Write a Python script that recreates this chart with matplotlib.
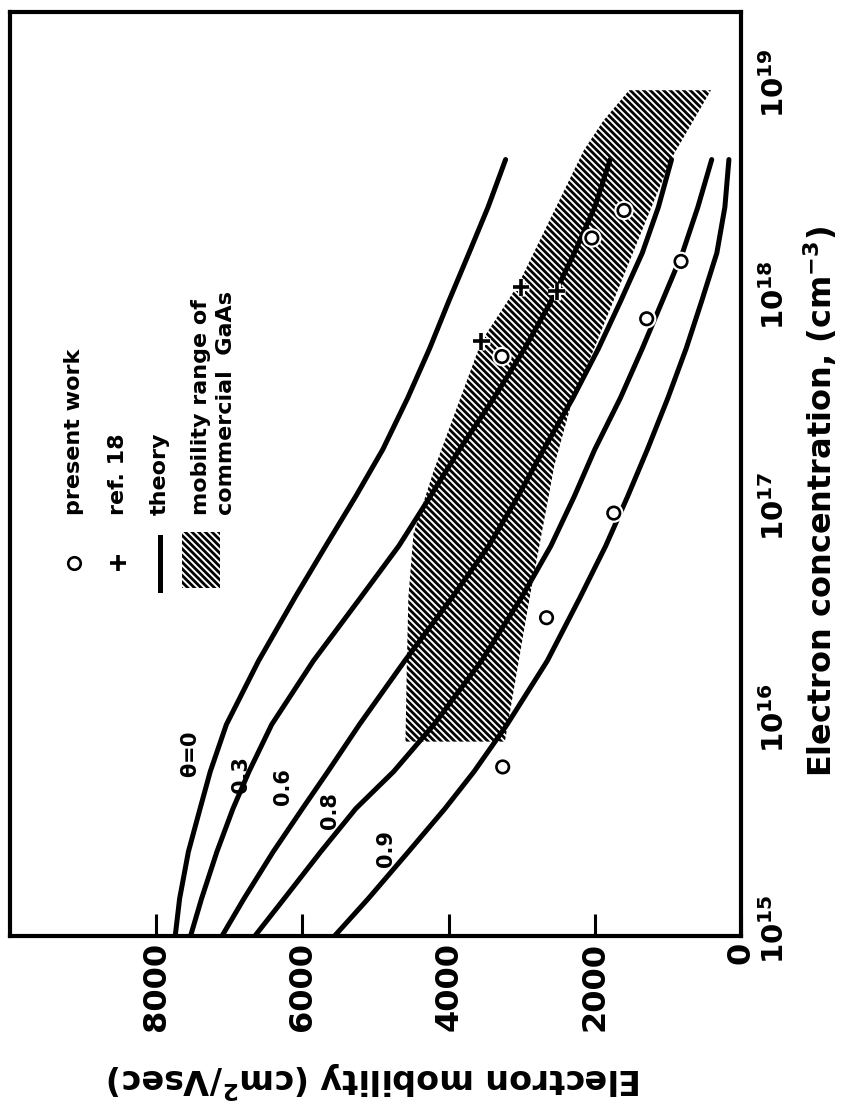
import matplotlib.pyplot as plt
import matplotlib.patheffects as pe
from matplotlib.patches import Rectangle
from matplotlib.ticker import NullLocator
from matplotlib.transforms import ScaledTranslation

plt.rcParams['font.family'] = ['DejaVu Sans']
plt.rcParams['font.weight'] = 'bold'
plt.rcParams['mathtext.default'] = 'bf'
plt.rcParams['hatch.linewidth'] = 2.0

# theory curves, electron concentration (cm^-3) vs mobility (cm^2/Vsec)
conc_theory = [1e15, 1.5e15, 2.5e15, 4e15, 6e15, 1e16, 2e16, 4e16, 7e16, 1.2e17,
               2e17, 3.5e17, 6e17, 1e18, 1.7e18, 2.8e18, 4.7e18]
mu_theta_00 = [7740, 7680, 7560, 7400, 7260, 7040, 6600, 6100, 5680, 5270,
               4900, 4560, 4260, 4000, 3720, 3460, 3220]
mu_theta_03 = [7530, 7380, 7170, 6950, 6730, 6420, 5850, 5200, 4680, 4250,
               3850, 3380, 2960, 2600, 2280, 2000, 1790]
mu_theta_06 = [7100, 6800, 6400, 6000, 5650, 5220, 4600, 3950, 3450, 3050,
               2700, 2300, 1950, 1650, 1350, 1130, 950]
mu_theta_08 = [6650, 6250, 5750, 5270, 4750, 4200, 3550, 3000, 2600, 2280,
               2000, 1650, 1350, 1080, 800, 590, 400]
mu_theta_09 = [5560, 5100, 4550, 4050, 3650, 3200, 2650, 2200, 1850, 1550,
               1280, 1000, 750, 540, 330, 220, 165]
theta_labels = ['$\\theta$=0', '0.3', '0.6', '0.8', '0.9']
label_conc = [7.2e15, 5.8e15, 5.1e15, 3.9e15, 2.6e15]
label_mu = [7530, 6840, 6260, 5620, 4860]

# present work
conc_present = [6.3e15, 3.2e16, 1.0e17, 5.5e17, 8.3e17, 1.55e18, 2.0e18, 2.7e18]
mu_present = [3260, 2660, 1740, 3270, 1290, 820, 2040, 1600]

# ref. 18
conc_ref18 = [6.5e17, 1.12e18, 1.17e18]
mu_ref18 = [3550, 2520, 3010]

# mobility range of commercial GaAs (outline of the shaded band)
band_conc_upper = [8.3e15, 2e16, 4e16, 8e16, 1.6e17, 3.2e17, 6.5e17, 1.2e18, 2.5e18, 5.2e18, 7.2e18, 1e19]
band_mu_upper = [4590, 4570, 4550, 4480, 4200, 3880, 3550, 3050, 2600, 2150, 1880, 1530]
band_conc_lower = [1e19, 4.7e18, 1.1e18, 3.2e17, 1.7e17, 4e16, 8.3e15]
band_mu_lower = [410, 960, 1700, 2330, 2550, 2890, 3230]

mu_ticks = [0, 2000, 4000, 6000, 8000]
conc_ticks = [1e15, 1e16, 1e17, 1e18, 1e19]
conc_ticklabels = ['$10^{15}$', '$10^{16}$', '$10^{17}$', '$10^{18}$', '$10^{19}$']

# the page is turned: mobility runs along the bottom (0 at right),
# concentration runs up the right hand side
fig = plt.figure(figsize=(8.64, 11.10), dpi=100)
ax = fig.add_axes([0.0116, 0.1568, 0.846, 0.8324])

ax.fill(band_mu_upper + band_mu_lower, band_conc_upper + band_conc_lower,
        facecolor='none', edgecolor='black', hatch='\\\\\\\\\\', linewidth=0, zorder=1)

halo = [pe.withStroke(linewidth=5, foreground='white')]
for mu in [mu_theta_00, mu_theta_03, mu_theta_06, mu_theta_08, mu_theta_09]:
    ax.plot(mu, conc_theory, color='black', lw=3.6, solid_capstyle='round',
            solid_joinstyle='round', zorder=2)

for lab, c, m in zip(theta_labels, label_conc, label_mu):
    ax.text(m, c, lab, rotation=90, ha='center', va='center', fontsize=15)

ax.plot(mu_present, conc_present, 'o', ms=9, mfc='white', mec='black', mew=1.9,
        path_effects=halo, zorder=3)
ax.plot(mu_ref18, conc_ref18, '+', ms=12, mec='black', mew=2.6,
        path_effects=halo, zorder=3)

# legend (turned with the page)
ly_mark = 0.404
ly_text = 0.456
ax.plot([0.0876], [ly_mark], 'o', ms=9, mfc='white', mec='black', mew=1.9,
        transform=ax.transAxes)
ax.plot([0.148], [ly_mark], '+', ms=12, mec='black', mew=2.6, transform=ax.transAxes)
ax.plot([0.205, 0.205], [0.374, 0.432], color='black', lw=3.6, transform=ax.transAxes)
ax.add_patch(Rectangle((0.235, 0.377), 0.052, 0.06, transform=ax.transAxes,
                       facecolor='none', edgecolor='black', hatch='\\\\\\\\\\', linewidth=0))
for xx, txt in zip([0.0876, 0.148, 0.205, 0.261, 0.295],
                   ['present work', 'ref. 18', 'theory', 'mobility range of', 'commercial  GaAs']):
    ax.text(xx, ly_text, txt, rotation=90, rotation_mode='anchor', ha='left', va='center',
            fontsize=16, transform=ax.transAxes)

ax.set_yscale('log')
ax.set_xlim(10000, 0)
ax.set_ylim(1e15, 10 ** 19.37)

ax.set_xticks(mu_ticks)
ax.set_xticklabels([str(t) for t in mu_ticks])
ax.tick_params(axis='x', direction='in', length=16, width=2.2, labelsize=23, pad=4,
               labelrotation=90)
ax.set_yticks(conc_ticks)
ax.set_yticklabels([])
ax.yaxis.set_minor_locator(NullLocator())
ax.tick_params(axis='y', which='both', length=0, left=False, right=False)

# concentration tick labels on the right frame, nudged up like the original
off = ax.get_yaxis_transform() + ScaledTranslation(0.19, 0.07, fig.dpi_scale_trans)
for c, lab in zip(conc_ticks, conc_ticklabels):
    ax.text(1.0, c, lab, transform=off, rotation=90, ha='left', va='center', fontsize=21)

for sp in ax.spines.values():
    sp.set_linewidth(3)

fig.text(375 / 864, 1 - 1080 / 1110, 'Electron mobility (cm$^2$/Vsec)', rotation=180,
         ha='center', va='center', fontsize=24)
fig.text(820 / 864, 1 - 501 / 1110, 'Electron concentration, (cm$^{-3}$)', rotation=90,
         ha='center', va='center', fontsize=23)

fig.savefig('out.png', dpi=100)
